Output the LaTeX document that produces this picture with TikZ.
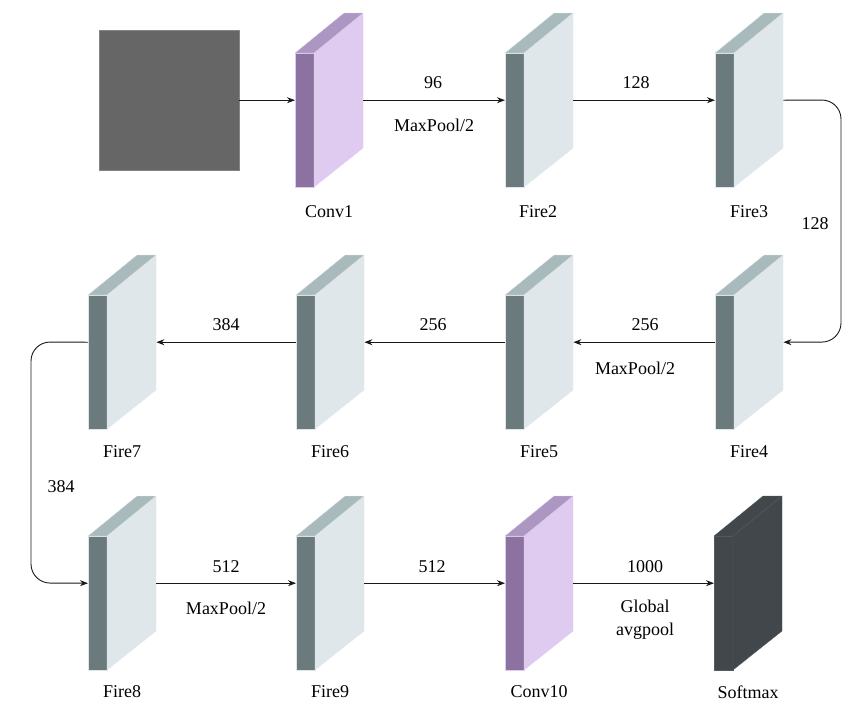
\documentclass[tikz,border=0pt]{standalone}
\usepackage{fontspec}
\setmainfont{Liberation Serif}
\usetikzlibrary{arrows.meta}
\definecolor{fdark}{HTML}{6B7A7D}
\definecolor{flight}{HTML}{DFE7EA}
\definecolor{ftop}{HTML}{A9BABD}
\definecolor{cdark}{HTML}{8B72A0}
\definecolor{clight}{HTML}{E0CBF0}
\definecolor{ctop}{HTML}{AC97C2}
\definecolor{sdark}{HTML}{41474B}
\definecolor{sedge}{HTML}{555C60}
\definecolor{inputgray}{HTML}{666666}
\tikzset{
  conn/.style={draw=black!90, line width=0.9pt, -{Stealth[length=8pt,width=6pt]}},
  lbl/.style={font=\fontsize{18}{20}\selectfont, inner sep=0pt},
  box/.style={inner sep=0pt, minimum width=68pt, minimum height=174pt, anchor=north west},
}
% \blk{name}{x}{ytop}{dark}{light}{top}{edge}
\newcommand\blk[7]{%
  \fill[#4,draw=#7,line width=0.3pt] (#2,#3+40) rectangle (#2+19,#3+174);
  \fill[#5,draw=#7,line width=0.3pt] (#2+19,#3+40) -- (#2+68,#3) -- (#2+68,#3+135) -- (#2+19,#3+174) -- cycle;
  \fill[#6,draw=#7,line width=0.3pt] (#2,#3+40) -- (#2+19,#3+40) -- (#2+68,#3) -- (#2+49,#3) -- cycle;
  \node[box] (#1) at (#2,#3) {};
}
\begin{document}
\begin{tikzpicture}[x=1pt,y=-1pt]
\useasboundingbox (0,0) rectangle (867,716);
% input
\node[fill=inputgray, draw=inputgray!80, inner sep=0pt, minimum width=140pt, minimum height=140pt, anchor=north west] (inp) at (99,30) {};
% row 1
\blk{conv1}{295}{13}{cdark}{clight}{ctop}{clight}
\blk{fire2}{505}{13}{fdark}{flight}{ftop}{flight}
\blk{fire3}{715}{13}{fdark}{flight}{ftop}{flight}
% row 2
\blk{fire7}{88}{255}{fdark}{flight}{ftop}{flight}
\blk{fire6}{296}{255}{fdark}{flight}{ftop}{flight}
\blk{fire5}{505}{255}{fdark}{flight}{ftop}{flight}
\blk{fire4}{715}{255}{fdark}{flight}{ftop}{flight}
% row 3
\blk{fire8}{88}{496}{fdark}{flight}{ftop}{flight}
\blk{fire9}{296}{496}{fdark}{flight}{ftop}{flight}
\blk{conv10}{505}{496}{cdark}{clight}{ctop}{clight}
\blk{softmax}{714}{496}{sdark}{sdark}{sdark}{sedge}
% labels under blocks
\node[lbl] (lconv1) at (329,212) {Conv1};
\node[lbl] (lfire2) at (538,212) {Fire2};
\node[lbl] (lfire3) at (749,212) {Fire3};
\node[lbl] (lfire7) at (122,452) {Fire7};
\node[lbl] (lfire6) at (330,452) {Fire6};
\node[lbl] (lfire5) at (539,452) {Fire5};
\node[lbl] (lfire4) at (749,452) {Fire4};
\node[lbl] (lfire8) at (122,692) {Fire8};
\node[lbl] (lfire9) at (330,692) {Fire9};
\node[lbl] (lconv10) at (539,692) {Conv10};
\node[lbl] (lsoft) at (748,692) {Softmax};
% connectors row 1
\draw[conn] (inp.east) -- (conv1.west);
\draw[conn] (conv1.east) -- (fire2.west);
\draw[conn] (fire2.east) -- (fire3.west);
\coordinate (r1) at (841,100);
\coordinate (r2) at (841,342);
\draw[conn, rounded corners=19pt] (fire3.east) -- (r1) -- (r2) -- (fire4.east);
% row 2
\draw[conn] (fire4.west) -- (fire5.east);
\draw[conn] (fire5.west) -- (fire6.east);
\draw[conn] (fire6.west) -- (fire7.east);
\coordinate (l1) at (31,342);
\coordinate (l2) at (31,583);
\draw[conn, rounded corners=19pt] (fire7.west) -- (l1) -- (l2) -- (fire8.west);
% row 3
\draw[conn] (fire8.east) -- (fire9.west);
\draw[conn] (fire9.east) -- (conv10.west);
\draw[conn] (conv10.east) -- (softmax.west);
% connector labels
\node[lbl] (t96) at (433,83) {96};
\node[lbl] (tmp1) at (434,125) {MaxPool/2};
\node[lbl] (t128a) at (636,83) {128};
\node[lbl] (t128b) at (815,224) {128};
\node[lbl] (t256a) at (645,325) {256};
\node[lbl] (tmp2) at (635,368) {MaxPool/2};
\node[lbl] (t256b) at (433,325) {256};
\node[lbl] (t384a) at (226,325) {384};
\node[lbl] (t384b) at (61,487) {384};
\node[lbl] (t512a) at (226,567) {512};
\node[lbl] (tmp3) at (226,608) {MaxPool/2};
\node[lbl] (t512b) at (432,567) {512};
\node[lbl] (t1000) at (645,567) {1000};
\node[lbl, align=center, font=\fontsize{18}{23}\selectfont] (tgap) at (645,620) {Global\\avgpool};
\end{tikzpicture}
\end{document}
